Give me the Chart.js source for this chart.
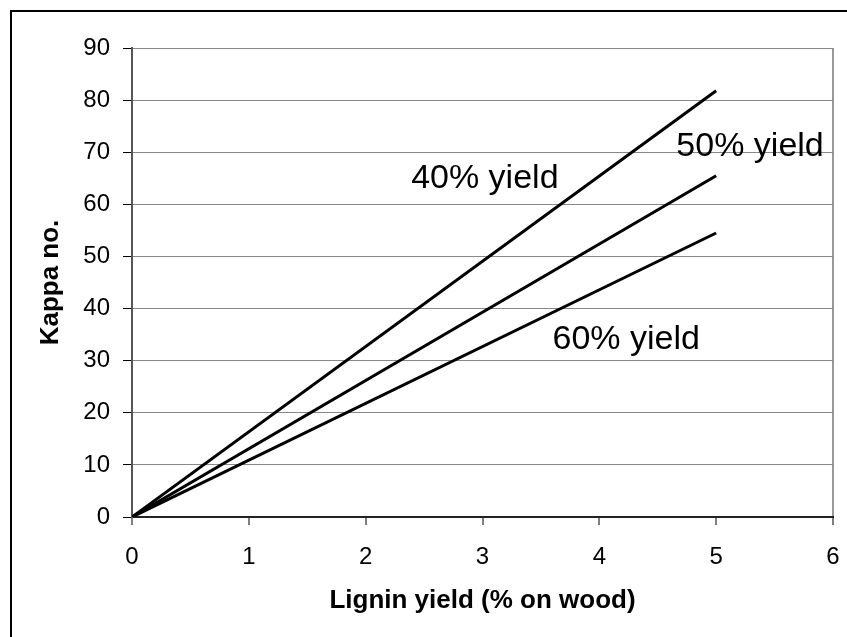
<!DOCTYPE html>
<html><head><meta charset="utf-8">
<script src="https://cdn.jsdelivr.net/npm/chart.js@4/dist/chart.umd.min.js"></script>
<style>html,body{margin:0;padding:0;background:#fff;overflow:hidden;}</style>
</head><body>
<canvas id="c" width="847" height="637"></canvas>
<script>
const ligninYield = [0, 5];
const kappa40 = [0, 81.8];
const kappa50 = [0, 65.5];
const kappa60 = [0, 54.5];
const seriesNames = ['40% yield', '50% yield', '60% yield'];
const labelX = [3.02, 5.29, 4.23];
const labelY = [64.9, 71.1, 34.0];
const xTitle = 'Lignin yield (% on wood)';
const yTitle = 'Kappa no.';

const FONT = "'Liberation Sans', Arial, sans-serif";
const mk = arr => ligninYield.map((x, i) => ({x: x, y: arr[i]}));

const annot = {
  id: 'annot',
  beforeDraw(chart) {
    const ctx = chart.ctx;
    ctx.save();
    ctx.fillStyle = '#fff';
    ctx.fillRect(0, 0, chart.width, chart.height);
    ctx.strokeStyle = '#000';
    ctx.lineWidth = 2;
    ctx.beginPath();
    ctx.moveTo(11, chart.height);
    ctx.lineTo(11, 11);
    ctx.lineTo(chart.width, 11);
    ctx.stroke();
    ctx.restore();
  },
  afterDatasetsDraw(chart) {
    const ctx = chart.ctx;
    const xs = chart.scales.x, ys = chart.scales.y;
    ctx.save();
    ctx.font = '34px ' + FONT;
    ctx.fillStyle = '#000';
    ctx.textAlign = 'center';
    ctx.textBaseline = 'middle';
    seriesNames.forEach((n, i) => {
      ctx.fillText(n, xs.getPixelForValue(labelX[i]), ys.getPixelForValue(labelY[i]));
    });
    ctx.restore();
  }
};

new Chart(document.getElementById('c'), {
  type: 'scatter',
  data: {
    datasets: [
      {label: seriesNames[0], data: mk(kappa40)},
      {label: seriesNames[1], data: mk(kappa50)},
      {label: seriesNames[2], data: mk(kappa60)}
    ].map(d => Object.assign(d, {showLine: true, borderColor: '#000', borderWidth: 3, pointRadius: 0, fill: false}))
  },
  options: {
    responsive: false,
    animation: false,
    devicePixelRatio: 1,
    layout: {padding: {left: 0, top: 48, right: 14, bottom: 0}},
    plugins: {legend: {display: false}, tooltip: {enabled: false}},
    scales: {
      x: {
        type: 'linear', min: 0, max: 6,
        afterFit(s) { s.height = 120; s.paddingRight = 0; s.paddingLeft = 0; },
        ticks: {stepSize: 1, color: '#000', font: {family: FONT, size: 24}, padding: 18, maxRotation: 0},
        grid: {
          color: c => (c.tick && c.tick.value === 6) ? '#999' : 'rgba(0,0,0,0)',
          lineWidth: 2,
          tickColor: '#000', tickLength: 8, tickWidth: 1
        },
        border: {color: '#222', width: 2},
        title: {display: true, text: xTitle, color: '#000', font: {family: FONT, size: 26, weight: 'bold'}, padding: {top: 0, bottom: 21}}
      },
      y: {
        type: 'linear', min: 0, max: 90,
        afterFit(s) { s.width = 132; },
        ticks: {stepSize: 10, color: '#000', font: {family: FONT, size: 24}, padding: 13},
        grid: {color: '#888', lineWidth: 1, tickColor: '#000', tickLength: 9, tickWidth: 1},
        border: {color: '#555', width: 2},
        title: {display: true, text: yTitle, color: '#000', font: {family: FONT, size: 26, weight: 'bold'}, padding: {top: 35, bottom: 0}}
      }
    }
  },
  plugins: [annot]
});
</script>
</body></html>
